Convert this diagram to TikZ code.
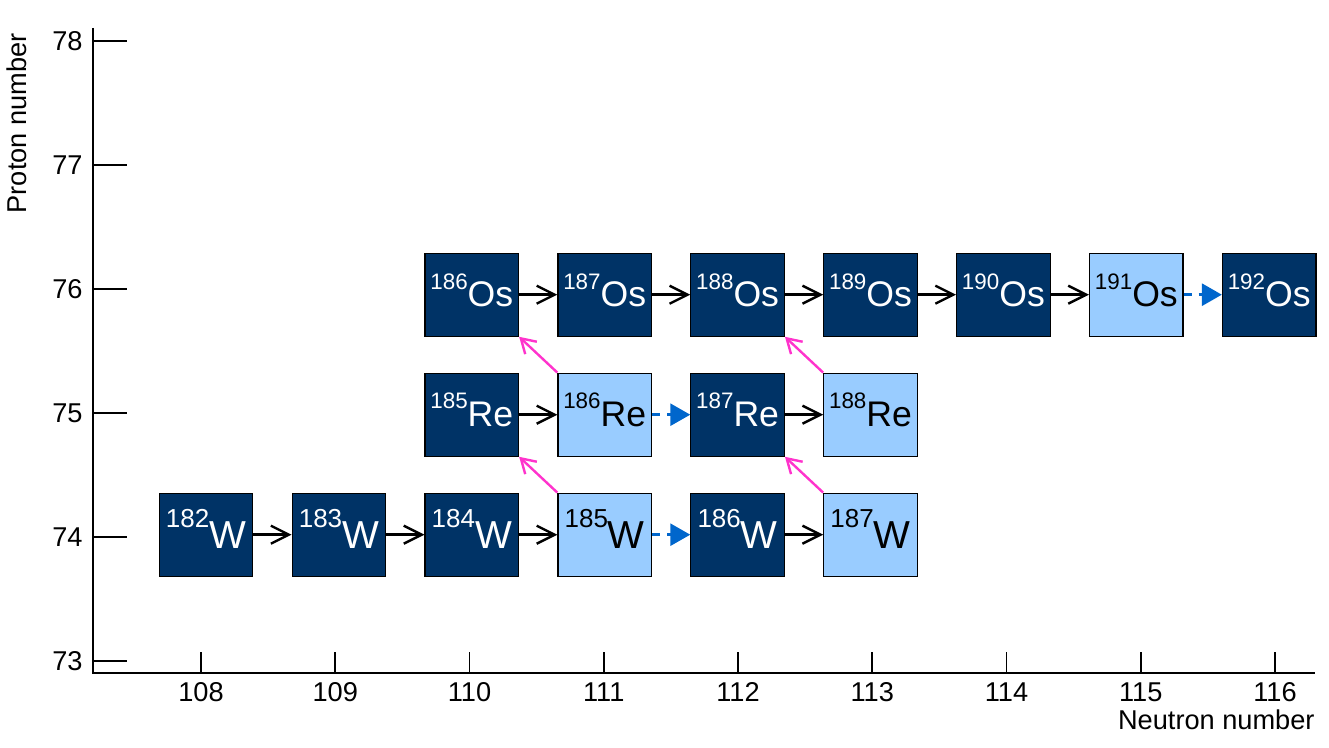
\documentclass[tikz,border=0pt]{standalone}
\usepackage{fontspec}
\setmainfont{Liberation Sans}
\usetikzlibrary{arrows.meta}

\definecolor{darkcell}{RGB}{0,51,102}
\definecolor{lightcell}{RGB}{153,204,255}
\definecolor{decayblue}{RGB}{0,102,204}
\definecolor{betapink}{RGB}{255,51,204}

% mass number as a raised prefix
\newcommand{\nuc}[3][11.2pt]{\raisebox{0.8\dimexpr #1\relax}[0pt][0pt]{\fontsize{#1}{#1}\selectfont #2}#3}

\tikzset{ stable/.style = { rectangle % stable isotope
        , draw = black
        , line width = 0.6pt
        , fill = darkcell
        , text = white
        , minimum width = 46.75pt
        , minimum height = 41.5pt
        , inner sep = 0pt
        , font = \fontsize{17.8pt}{17.8pt}\selectfont
        }
        , unstable/.style = { stable % short lived
        , fill = lightcell
        , text = black
        }
        , tungsten/.style = { font = \fontsize{19.5pt}{19.5pt}\selectfont % W cells
        }
        , ticklabel/.style = { inner sep = 0pt % axis numbers
        , font = \fontsize{13.6pt}{13.6pt}\selectfont
        }
        }

\begin{document}
\begin{tikzpicture}[x=0.5pt, y=-0.5pt,
        capture_edge_style/.style={draw=black, line width=1.2pt, -{Straight Barb[length=9pt,width=9pt]}},
        decay_edge_style/.style={draw=decayblue, line width=1.5pt, dash pattern=on 4pt off 3.5pt, -{Triangle[length=10pt,width=11pt]}},
        beta_edge_style/.style={draw=betapink, line width=1.2pt, -{Straight Barb[length=7pt,width=8.5pt]}}]
        \useasboundingbox (0,0) rectangle (1329,748);

        % axes
        \draw [line width=1pt] (93,28) -- (93,672.5) -- (1315,672.5);
        \foreach \z [count=\i from 0] in {73,...,78} {
            \pgfmathsetmacro\py{661-\i*124}
            \draw [line width=0.8pt] (93,\py) -- (127,\py);
            \node [ticklabel,anchor=east] (yl\z) at (83,\py) {\z};
        }
        \foreach \n [count=\i from 0] in {108,...,116} {
            \pgfmathsetmacro\px{201+\i*134.25}
            \draw [line width=0.8pt] (\px,652.5) -- (\px,672.5);
            \node [ticklabel] (xl\n) at (\px,692) {\n};
        }
        \node [ticklabel,anchor=base east] (xtitle) at (1315,729) {Neutron number};
        \node [ticklabel,rotate=90,anchor=base east] (ytitle) at (26,33) {Proton number};

        % Z = 74
        \node [stable,tungsten] (W182) at (206,534.7) {\nuc[13pt]{182}{W}};
        \node [stable,tungsten] (W183) at (338.9,534.7) {\nuc[13pt]{183}{W}};
        \node [stable,tungsten] (W184) at (471.8,534.7) {\nuc[13pt]{184}{W}};
        \node [unstable,tungsten] (W185) at (604.7,534.7) {\nuc[13pt]{185}{W}};
        \node [stable,tungsten] (W186) at (737.6,534.7) {\nuc[13pt]{186}{W}};
        \node [unstable,tungsten] (W187) at (870.5,534.7) {\nuc[13pt]{187}{W}};
        % Z = 75
        \node [stable] (Re185) at (471.8,414.7) {\nuc{185}{Re}};
        \node [unstable] (Re186) at (604.7,414.7) {\nuc{186}{Re}};
        \node [stable] (Re187) at (737.6,414.7) {\nuc{187}{Re}};
        \node [unstable] (Re188) at (870.5,414.7) {\nuc{188}{Re}};
        % Z = 76
        \node [stable] (Os186) at (471.8,294.7) {\nuc{186}{Os}};
        \node [stable] (Os187) at (604.7,294.7) {\nuc{187}{Os}};
        \node [stable] (Os188) at (737.6,294.7) {\nuc{188}{Os}};
        \node [stable] (Os189) at (870.5,294.7) {\nuc{189}{Os}};
        \node [stable] (Os190) at (1003.4,294.7) {\nuc{190}{Os}};
        \node [unstable] (Os191) at (1136.3,294.7) {\nuc{191}{Os}};
        \node [stable] (Os192) at (1269.2,294.7) {\nuc{192}{Os}};

        \draw [capture_edge_style] (W182) -- (W183);
        \draw [capture_edge_style] (W183) -- (W184);
        \draw [capture_edge_style] (W184) -- (W185);
        \draw [decay_edge_style] (W185) -- (W186);
        \draw [capture_edge_style] (W186) -- (W187);
        \draw [capture_edge_style] (Re185) -- (Re186);
        \draw [decay_edge_style] (Re186) -- (Re187);
        \draw [capture_edge_style] (Re187) -- (Re188);
        \draw [capture_edge_style] (Os186) -- (Os187);
        \draw [capture_edge_style] (Os187) -- (Os188);
        \draw [capture_edge_style] (Os188) -- (Os189);
        \draw [capture_edge_style] (Os189) -- (Os190);
        \draw [capture_edge_style] (Os190) -- (Os191);
        \draw [decay_edge_style] (Os191) -- (Os192);

        \draw [beta_edge_style] (W185.north west) -- (Re185.south east);
        \draw [beta_edge_style] (W187.north west) -- (Re187.south east);
        \draw [beta_edge_style] (Re186.north west) -- (Os186.south east);
        \draw [beta_edge_style] (Re188.north west) -- (Os188.south east);
\end{tikzpicture}
\end{document}
